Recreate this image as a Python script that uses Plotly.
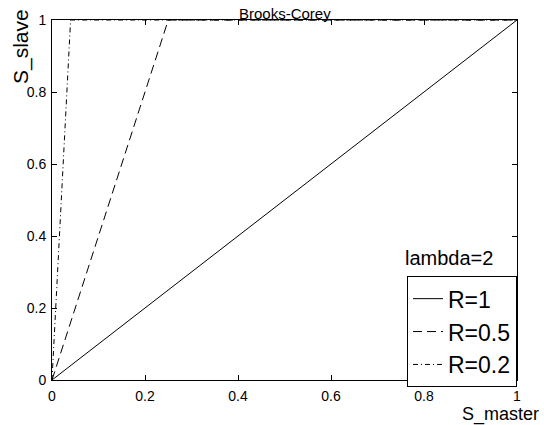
import plotly.graph_objects as go

# Data
s_master_r1 = [0, 1]
s_slave_r1 = [0, 1]
s_master_r05 = [0, 0.25, 1]
s_slave_r05 = [0, 1, 1]
s_master_r02 = [0, 0.04, 1]
s_slave_r02 = [0, 1, 1]
series_names = ["R=1", "R=0.5", "R=0.2"]
tick_vals = [0, 0.2, 0.4, 0.6, 0.8, 1]
tick_text = ["0", "0.2", "0.4", "0.6", "0.8", "1"]

FONT = "Liberation Sans, Arial, sans-serif"

fig = go.Figure()
fig.add_trace(go.Scatter(x=s_master_r1, y=s_slave_r1, mode="lines", name=series_names[0],
                         line=dict(color="black", width=1)))
fig.add_trace(go.Scatter(x=s_master_r05, y=s_slave_r05, mode="lines", name=series_names[1],
                         line=dict(color="black", width=1, dash="9px,5px")))
fig.add_trace(go.Scatter(x=s_master_r02, y=s_slave_r02, mode="lines", name=series_names[2],
                         line=dict(color="black", width=1, dash="5px,3px,1px,3px")))

axis_common = dict(range=[0, 1], tickvals=tick_vals, ticktext=tick_text,
                   ticks="inside", ticklen=5, tickcolor="black", showgrid=False,
                   zeroline=False, showline=True, linecolor="black", linewidth=1,
                   mirror="ticks", tickfont=dict(family=FONT, size=14, color="black"))

fig.update_layout(
    width=544, height=425,
    margin=dict(l=52, r=27, t=20, b=45),
    paper_bgcolor="white", plot_bgcolor="white",
    font=dict(family=FONT, color="black"),
    xaxis=dict(**axis_common, ticklabelstandoff=3),
    yaxis=dict(**axis_common, ticklabelstandoff=2),
    showlegend=True,
    legend=dict(x=1, xanchor="right", y=-0.02, yanchor="bottom",
                bordercolor="black", borderwidth=1, bgcolor="white",
                font=dict(family=FONT, size=23, color="black"),
                tracegroupgap=0, itemwidth=30),
    annotations=[
        dict(text="Brooks-Corey", x=0.5, y=1, xref="paper", yref="paper",
             xanchor="center", yanchor="bottom", showarrow=False, yshift=-4,
             font=dict(family=FONT, size=15, color="black")),
        dict(text="S_slave", x=0, y=0.925, xref="paper", yref="paper", textangle=-90,
             xanchor="center", yanchor="middle", showarrow=False, xshift=-31,
             font=dict(family=FONT, size=21, color="black")),
        dict(text="S_master", x=1, y=0, xref="paper", yref="paper",
             xanchor="right", yanchor="middle", showarrow=False, xshift=24, yshift=-34,
             font=dict(family=FONT, size=18, color="black")),
        dict(text="lambda=2", x=0.755, y=0.34, xref="paper", yref="paper",
             xanchor="left", yanchor="middle", showarrow=False,
             font=dict(family=FONT, size=20, color="black")),
    ],
)

fig.write_html("out.html")
